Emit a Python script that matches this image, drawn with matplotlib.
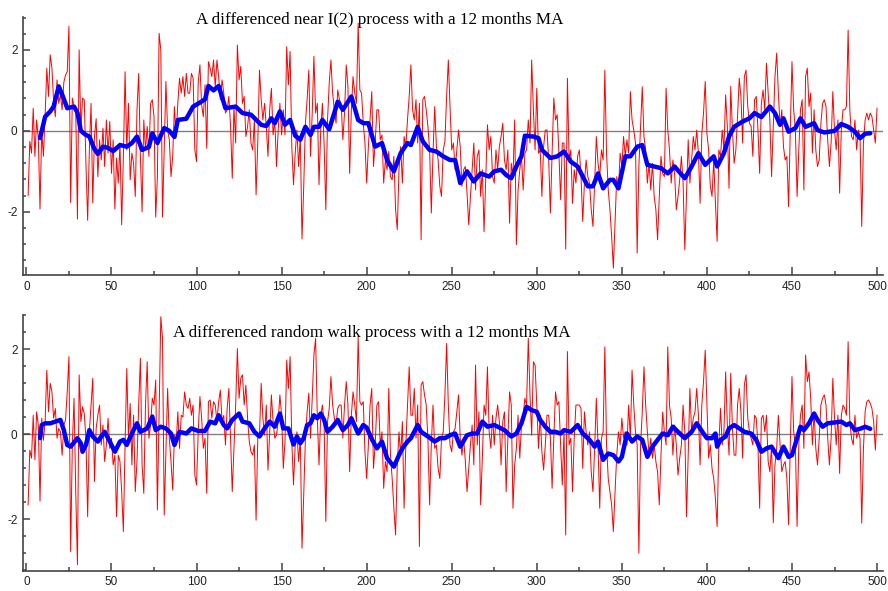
import matplotlib
matplotlib.use("Agg")
import matplotlib.pyplot as plt
from matplotlib.ticker import MultipleLocator, FixedLocator

plt.rcParams["axes.unicode_minus"] = False

# ---------------- data ----------------
top_red = [
    -1.6, -0.26, -0.55, 0.56, -0.63, 0.27, -0.18, -1.93, 0.0, -0.63,
    0.4, 1.55, 0.85, 1.88, 1.55, 0.72, 0.35, 1.26, 0.68, 0.9,
    0.52, 1.2, 1.38, 1.46, 2.58, -1.77, 0.81, 0.6, 0.5, -2.18,
    2.0, 0.0, 0.81, 0.77, -0.8, -2.21, -0.47, 0.68, -1.78, -0.14,
    0.3, -1.13, -0.22, -0.72, 0.07, -0.88, 0.27, -0.55, 0.23, -1.05,
    -0.22, -1.93, -0.67, -1.29, -0.3, -2.32, -0.63, 1.46, -0.47, 0.68,
    -1.21, -0.55, -0.8, -1.62, 0.52, 1.42, -0.63, -2.0, 0.27, -0.47,
    0.11, -0.63, 0.68, 0.77, 0.35, -2.13, -1.13, 2.41, 2.0, -2.13,
    -0.47, 1.22, 0.02, -0.22, -1.13, -0.63, 0.6, -0.14, 0.68, 1.3,
    0.93, 1.34, 0.85, 1.42, 0.93, 0.93, 1.42, 1.3, -0.47, -0.76,
    1.2, 1.63, 0.64, 0.35, 1.14, -0.43, 1.71, 1.55, 1.34, 1.75,
    1.09, 1.75, 1.34, 0.77, 1.26, 0.93, 0.44, 0.52, 0.85, 0.11,
    -1.17, 0.6, -0.3, 2.12, 1.26, 1.59, 0.68, 0.85, -0.14, 0.11,
    0.52, -0.3, -0.47, 0.27, -1.58, -0.3, 1.5, 0.77, 0.27, 0.68,
    0.11, -0.63, 0.52, 1.05, -0.1, 0.27, -0.88, 0.02, 0.68, -0.1,
    0.52, -0.1, 2.08, 1.14, 1.96, -0.39, -1.33, -0.55, 0.02, -0.88,
    -0.14, -2.67, -1.38, 0.19, 0.77, 1.5, -0.63, 0.44, 1.84, 0.44,
    0.68, -1.33, 0.02, 0.68, -0.35, -1.95, 0.27, 1.18, 1.75, 0.93,
    0.52, 0.19, 1.01, 0.77, 0.68, -0.22, 0.44, 1.63, 1.09, -1.05,
    0.52, 1.34, 0.93, 0.68, 2.66, 1.01, 0.93, 0.19, -0.3, -1.29,
    -0.39, 0.27, 0.97, -0.88, -0.3, 0.52, 0.52, -0.22, -0.1, -1.29,
    -0.72, -0.96, -0.51, -1.13, -1.21, -0.63, -1.95, -2.44, -0.96, -0.39,
    -1.29, -0.14, -0.39, 0.27, 0.85, 1.63, 0.52, 0.27, 0.77, -0.3,
    0.68, -2.69, 0.77, 0.85, 0.52, 0.11, -0.47, -2.03, -0.55, 0.6,
    -0.39, -0.72, -1.37, -1.62, -0.47, -0.26, 0.85, 1.75, 0.6, -0.47,
    -0.3, -0.96, -0.47, 0.02, -0.39, -1.37, -0.96, -0.88, -1.54, -2.32,
    -1.62, -0.96, -0.3, -1.46, -0.63, -0.47, -1.62, -0.96, -2.49, -1.13,
    0.15, -0.47, -0.14, -1.13, -1.29, -0.47, -0.96, -0.39, -0.14, 0.19,
    -0.72, -0.96, -0.47, -2.28, -0.8, -1.13, 0.27, -2.81, -1.46, -0.96,
    -0.63, -1.46, -0.55, -0.47, 0.27, -0.3, 1.75, 0.52, -0.47, 1.05,
    -0.55, -0.47, -1.62, -0.39, 0.02, 0.02, -0.72, -2.03, -0.55, 0.81,
    0.27, 0.4, -0.55, -1.7, -0.3, -0.3, -2.92, 1.3, -0.72, -0.47,
    -1.79, -0.96, -1.29, -0.63, -0.47, -1.13, -2.24, -1.29, -0.72, -1.13,
    -1.29, -1.95, -2.36, -1.29, -0.14, -0.8, -1.13, -0.47, -0.72, 1.5,
    -0.55, -1.46, -1.95, -2.61, -3.39, -2.28, -1.13, -1.46, -0.55, -0.88,
    -0.14, -0.63, -0.22, -0.55, 0.97, 0.27, 0.02, -0.3, -3.02, -0.88,
    0.11, 1.09, -0.14, -0.47, -1.29, -0.8, -1.46, -0.8, -1.62, -1.95,
    -2.69, -1.62, -0.63, -1.05, -1.13, 1.05, 0.02, -0.47, -1.29, -0.72,
    -1.05, -1.95, -1.62, -1.21, -0.63, -1.29, -2.94, -1.62, -0.22, -1.29,
    -0.72, -0.14, -0.47, 0.02, -0.55, -1.79, -0.07, 0.44, 1.22, -0.06,
    -0.47, -1.37, -1.62, -0.72, -1.79, -2.73, -0.47, -0.63, 0.02, -0.47,
    0.89, 0.11, -1.42, 1.1, 0.02, -0.8, -0.47, 0.35, 1.3, 0.85,
    -0.3, 1.34, 1.5, 0.6, 0.19, 0.11, -0.63, 0.77, 0.85, 0.02,
    -1.05, 0.68, 1.01, 0.52, 1.67, 0.93, 0.27, -1.13, 0.11, 1.34,
    1.92, 0.93, 0.11, 0.52, -0.39, -0.72, -0.63, -1.87, 0.02, 1.71,
    0.52, 0.02, -1.62, -0.47, 0.52, 0.77, -1.46, 1.34, 1.55, 0.6,
    0.93, -0.55, 0.52, -0.47, -0.88, -0.72, 0.19, 0.68, 0.77, 0.6,
    -0.22, -0.88, -0.3, 0.97, 0.02, -0.47, 0.27, -1.54, 0.02, 0.52,
    0.52, 0.6, 2.49, 0.52, -0.14, -0.22, 0.27, -0.47, 0.02, -0.14,
    -2.36, -0.3, 0.27, 0.44, 0.27, 0.44, 0.35, 0.02, -0.3, 0.56,
]

top_ma_t = [8, 11, 14, 16, 19, 21, 24, 28, 30, 32, 35, 37, 40, 42, 45, 48, 51, 55, 59, 62,
            65, 68, 72, 74, 77, 81, 84, 87, 89, 94, 98, 102, 105, 107, 110, 113, 117, 123, 127, 132,
            138, 141, 144, 146, 149, 152, 155, 158, 161, 164, 167, 169, 172, 174, 178, 183, 186, 191, 195, 198,
            201, 203, 205, 209, 212, 216, 220, 224, 226, 230, 233, 237, 241, 245, 249, 252, 255, 259, 263, 267,
            272, 275, 279, 282, 285, 288, 291, 293, 298, 301, 303, 308, 312, 316, 320, 324, 330, 333, 336, 339,
            343, 345, 348, 352, 355, 359, 362, 365, 369, 373, 377, 381, 387, 391, 395, 399, 404, 406, 410, 413,
            416, 421, 425, 428, 432, 437, 440, 443, 445, 448, 452, 455, 458, 463, 465, 469, 475, 479, 483, 487,
            490, 493, 496]
top_ma_v = [-0.18, 0.35, 0.48, 0.6, 1.1, 0.9, 0.56, 0.6, 0.45, 0.0, -0.1, -0.14, -0.45, -0.57, -0.39, -0.42, -0.5, -0.35, -0.39, -0.3,
            -0.14, -0.47, -0.4, -0.06, -0.3, 0.07, 0.0, -0.15, 0.27, 0.3, 0.6, 0.7, 0.78, 1.11, 1.0, 1.11, 0.56, 0.6, 0.44, 0.4,
            0.15, 0.12, 0.31, 0.19, 0.48, 0.15, 0.27, -0.12, -0.22, 0.1, -0.1, 0.1, 0.1, 0.27, 0.04, 0.72, 0.52, 0.85, 0.27, 0.19,
            0.19, -0.1, -0.39, -0.3, -0.72, -1.0, -0.55, -0.3, -0.35, 0.1, -0.26, -0.47, -0.51, -0.63, -0.72, -0.72, -1.29, -1.0, -1.25, -1.05,
            -1.13, -1.0, -0.96, -1.09, -1.17, -0.88, -0.63, -0.12, -0.14, -0.18, -0.47, -0.67, -0.63, -0.51, -0.76, -0.88, -1.37, -1.37, -1.05, -1.42,
            -1.21, -1.21, -1.42, -0.63, -0.63, -0.39, -0.35, -0.84, -0.88, -0.92, -1.05, -0.88, -1.17, -0.88, -0.55, -0.84, -0.63, -0.88, -0.55, -0.14,
            0.1, 0.23, 0.31, 0.44, 0.34, 0.6, 0.44, 0.15, 0.31, -0.02, 0.07, 0.31, 0.1, 0.19, 0.02, -0.04, 0.0, 0.17, 0.1, -0.02,
            -0.18, -0.07, -0.06]

bot_red = [
    -1.66, -0.37, -0.56, 0.45, -0.6, 0.53, 0.22, -1.57, 0.38, -0.14,
    0.3, 1.51, 0.53, 1.2, 1.0, 0.38, 0.61, -0.09, 0.14, 0.06,
    -0.49, 0.22, 0.34, 1.0, 1.83, -2.76, -0.25, 0.85, -1.35, -3.07,
    1.4, 0.3, 0.65, 0.49, -0.09, -1.94, 0.06, 0.69, 1.32, -1.11,
    0.14, 0.45, 0.69, -0.25, 0.22, -0.64, -0.25, 0.38, -0.33, -0.09,
    -0.72, -0.49, -1.94, -0.49, -0.64, -1.35, -2.29, -0.25, 1.55, -0.09,
    0.73, -0.72, 0.45, -1.35, -0.64, 0.69, 1.79, -0.72, -1.39, 0.69,
    1.71, -0.09, 0.22, 0.85, 0.69, 1.28, -1.78, 0.45, 2.77, 2.26,
    -1.9, -0.41, 1.08, -0.09, -0.64, -1.31, -0.02, -0.25, 0.53, -0.33,
    0.45, 0.41, 1.0, 0.69, 0.61, 0.85, 0.45, 0.69, -0.96, -1.19,
    0.06, 0.89, 0.38, -0.33, -0.09, -1.39, 0.77, 0.81, 0.38, 0.77,
    0.69, 0.3, 0.77, 1.04, 0.3, 0.45, -0.25, 0.61, 1.08, -0.09,
    -1.35, -0.33, 0.69, 2.02, 0.85, 1.32, 1.4, 0.69, 1.16, 0.38,
    -0.17, -0.41, -0.49, -0.25, -2.02, -0.09, -0.02, 1.2, 0.38, -0.02,
    0.69, -0.84, 0.06, 0.93, 0.3, -0.09, -0.02, 0.3, 0.93, 0.45,
    -0.8, -0.17, 1.75, 1.08, 1.83, -0.17, -1.19, -0.25, 0.06, -0.64,
    -0.09, -2.68, -1.43, -0.09, 0.53, 0.97, -0.09, 0.85, 1.87, 2.26,
    0.38, -0.72, 0.45, 0.69, 0.22, -2.05, 0.3, 0.61, 1.36, 0.69,
    0.38, 0.22, 0.61, 0.69, 0.69, -0.09, 0.69, 1.24, 0.69, -0.88,
    0.45, 1.0, 0.69, 0.3, 2.3, 0.77, 0.69, 0.77, -0.41, -1.04,
    -0.25, 0.69, 1.08, -0.8, -0.25, 0.69, 0.77, -0.25, 0.06, -1.27,
    -0.64, -0.88, 1.08, -0.49, -1.04, -1.74, -2.37, -0.72, 0.06, -0.49,
    0.3, -1.74, -0.25, 0.69, 1.59, 0.45, 0.45, 1.08, -0.09, 0.69,
    -2.64, 1.16, 1.24, 0.93, 0.69, -0.09, -1.66, -0.25, 0.69, -0.33,
    -0.25, -0.8, -1.04, -0.09, 0.06, 0.93, 2.14, 0.69, -0.25, -0.41,
    0.06, 0.14, 0.53, 0.93, -0.09, -0.49, -0.09, -0.64, -1.35, -0.8,
    -0.25, 0.22, -0.72, 1.63, -0.25, 0.53, -1.66, -0.56, 0.69, 0.45,
    1.59, 0.06, -0.33, 0.45, -0.25, 0.38, 0.69, 0.3, -0.72, 0.3,
    0.53, -1.35, -0.09, 1.0, 0.69, -1.74, -0.72, -0.33, 0.45, -0.56,
    0.22, 0.45, 0.85, 0.69, 2.26, 0.93, -0.02, 1.71, 1.63, 0.69,
    -0.33, 0.45, -0.41, -0.84, -0.25, 0.45, 0.45, -0.09, -1.27, -0.09,
    1.0, 0.69, 0.77, -0.25, -1.19, 0.06, -2.37, 1.95, -0.25, -0.09,
    -1.35, -0.09, 0.69, 0.69, 0.69, 0.61, -0.8, 0.53, 0.06, -0.25,
    0.06, -0.88, -1.35, -0.33, 0.85, -0.25, -1.74, -0.09, 0.06, 2.06,
    -0.25, -1.04, -1.35, -1.66, -2.29, -1.35, -0.49, 0.06, -0.25, 0.38,
    -0.09, 0.06, -0.25, 0.69, -0.09, 1.51, 0.69, 0.06, -0.25, -2.8,
    -0.25, 0.53, 1.59, 0.69, 0.06, -0.49, -0.09, -0.56, -0.25, -0.64,
    -0.88, -1.66, -0.49, 0.53, 0.06, -0.25, 2.06, 0.69, 0.38, -0.49,
    0.22, -0.25, -0.96, -0.56, -0.25, 0.69, 0.06, -1.94, -0.49, 1.08,
    0.06, 0.38, 0.53, 1.08, 0.45, -0.72, 0.69, 1.24, 1.98, 0.69,
    -0.56, -0.25, -0.8, -1.04, -1.51, -2.17, -0.25, 0.61, -0.25, 0.06,
    1.47, 0.22, -0.49, 1.44, 0.14, -0.49, -0.49, 0.69, 1.08, 0.53,
    -0.56, 1.16, 1.4, 0.38, 0.06, -0.09, -0.25, 0.45, 0.38, -0.25,
    -1.74, 0.38, 0.45, 0.06, 0.45, -0.64, -0.88, -0.25, -2.08, -0.72,
    -0.33, 0.45, -0.25, -0.88, -0.72, -0.64, -1.04, -2.13, -0.25, 1.36,
    0.06, -0.25, -2.17, -0.25, 0.45, 0.69, -0.33, 1.87, 1.24, 1.47,
    0.85, -0.25, 0.53, -0.33, -0.72, -0.09, 0.69, 0.85, 0.93, 0.69,
    -0.09, -0.72, -0.09, 1.32, 0.38, -0.25, 0.45, -0.92, 0.45, 0.69,
    0.61, 0.45, 2.18, 0.3, -0.09, -0.25, 0.45, -0.09, 0.06, -0.09,
    -2.09, -0.33, 0.53, 0.77, 0.81, 0.73, 0.61, 0.3, -0.37, 0.45,
]

bot_ma_t = [8, 9, 11, 14, 17, 20, 22, 24, 26, 30, 32, 33, 35, 37, 39, 42, 44, 46, 49, 52,
            55, 57, 59, 62, 65, 67, 71, 74, 76, 79, 82, 85, 87, 90, 94, 97, 101, 105, 108, 111,
            113, 116, 118, 121, 125, 127, 131, 134, 137, 140, 143, 146, 149, 151, 154, 157, 159, 161, 163, 165,
            167, 169, 171, 173, 175, 177, 180, 183, 186, 189, 191, 195, 198, 200, 203, 206, 209, 212, 216, 219,
            221, 224, 226, 230, 232, 236, 240, 243, 246, 249, 252, 255, 259, 262, 265, 268, 271, 275, 279, 281,
            285, 288, 291, 294, 297, 300, 302, 305, 308, 311, 314, 316, 320, 324, 327, 331, 334, 336, 339, 342,
            345, 348, 350, 353, 356, 359, 362, 365, 368, 371, 374, 377, 380, 383, 387, 391, 394, 398, 400, 403,
            405, 406, 408, 411, 413, 416, 419, 422, 426, 429, 432, 435, 438, 442, 445, 448, 450, 453, 455, 457,
            460, 463, 465, 468, 471, 475, 479, 482, 484, 487, 490, 493, 496]
bot_ma_v = [-0.09, 0.22, 0.26, 0.26, 0.3, 0.34, 0.1, -0.25, -0.29, -0.09, -0.21, -0.41, -0.25, 0.1, -0.05, -0.17, -0.05, 0.06, -0.17, -0.41,
            -0.17, -0.13, -0.25, 0.02, 0.26, 0.06, 0.14, 0.42, 0.1, 0.18, 0.14, 0.02, -0.25, 0.06, 0.02, 0.14, 0.08, 0.08, 0.3, 0.26,
            0.45, 0.22, 0.14, 0.34, 0.49, 0.3, 0.26, 0.06, -0.05, 0.14, 0.3, 0.18, 0.49, 0.14, 0.14, -0.24, -0.05, -0.21, -0.09, 0.22,
            0.26, 0.45, 0.38, 0.49, 0.34, 0.06, 0.18, 0.34, 0.1, 0.22, 0.38, 0.02, 0.22, 0.16, -0.11, -0.33, -0.17, -0.56, -0.76, -0.49,
            -0.33, -0.17, -0.09, 0.22, 0.06, -0.05, -0.17, -0.09, -0.09, -0.02, 0.02, -0.29, -0.02, 0.02, 0.02, 0.3, 0.18, 0.22, 0.14, 0.1,
            -0.05, 0.02, 0.26, 0.65, 0.57, 0.53, 0.34, 0.18, 0.06, 0.06, 0.02, 0.1, 0.06, 0.22, 0.02, -0.13, -0.29, -0.17, -0.6, -0.45,
            -0.49, -0.64, -0.53, 0.02, -0.17, -0.05, -0.13, -0.53, -0.29, -0.13, 0.02, -0.02, 0.18, 0.06, -0.09, 0.06, 0.26, 0.02, -0.09, -0.09,
            0.02, -0.29, -0.13, -0.05, 0.14, 0.22, 0.14, 0.06, 0.02, -0.13, -0.41, -0.33, -0.29, -0.56, -0.29, -0.53, -0.49, -0.09, 0.18, 0.1,
            0.26, 0.49, 0.34, 0.18, 0.26, 0.28, 0.3, 0.22, 0.26, 0.1, 0.13, 0.18, 0.13]

titles = ["A differenced near I(2) process with a 12 months MA",
          "A differenced random walk process with a 12 months MA"]

# ---------------- drawing ----------------
W, H = 888, 591
fig = plt.figure(figsize=(W / 100, H / 100), dpi=100)
fig.patch.set_facecolor("white")

panels = [
    dict(rect=[23 / W, 1 - 275 / H, 860 / W, 258.3 / H], red=top_red, mt=top_ma_t, mv=top_ma_v,
         ylim=(-3.56, 2.82), title=titles[0], tpos=(380, 20)),
    dict(rect=[23 / W, 1 - 570.7 / H, 860 / W, 255.7 / H], red=bot_red, mt=bot_ma_t, mv=bot_ma_v,
         ylim=(-3.21, 2.81), title=titles[1], tpos=(372, 333)),
]

axis_col = "#444444"
for p in panels:
    ax = fig.add_axes(p["rect"])
    ax.set_facecolor("white")
    t = list(range(1, len(p["red"]) + 1))
    ax.axhline(0, color="#808080", lw=1.0, zorder=1)
    ax.plot(t, p["red"], color="#ff0000", lw=0.7, zorder=2)
    ax.plot(p["mt"], p["mv"], color="#0000ff", lw=3.2, zorder=3,
            solid_joinstyle="round", solid_capstyle="round")
    ax.set_xlim(-2, 503.5)
    ax.set_ylim(*p["ylim"])
    for s in ("top", "right"):
        ax.spines[s].set_visible(False)
    for s in ("left", "bottom"):
        ax.spines[s].set_linewidth(1.2)
        ax.spines[s].set_color(axis_col)
    ax.xaxis.set_major_locator(MultipleLocator(50))
    ax.xaxis.set_minor_locator(MultipleLocator(25))
    ax.yaxis.set_major_locator(FixedLocator([-2, 0, 2]))
    ax.yaxis.set_minor_locator(MultipleLocator(0.4))
    ax.tick_params(axis="x", which="major", direction="in", length=6, width=1.1,
                   color=axis_col, labelsize=8.5, pad=4)
    ax.tick_params(axis="x", which="minor", direction="in", length=3, width=1.1,
                   color=axis_col)
    ax.tick_params(axis="y", which="major", direction="in", length=5, width=1.1,
                   color=axis_col, labelsize=8.5, pad=4)
    ax.tick_params(axis="y", which="minor", direction="in", length=2.5, width=1.1,
                   color=axis_col)
    for lab in ax.get_xticklabels() + ax.get_yticklabels():
        lab.set_family("Liberation Sans")
        lab.set_color("#222222")
    fig.text(p["tpos"][0] / W, 1 - p["tpos"][1] / H, p["title"],
             ha="center", va="center", fontsize=12.3, family="Liberation Serif")

fig.savefig("out.png", dpi=100)
